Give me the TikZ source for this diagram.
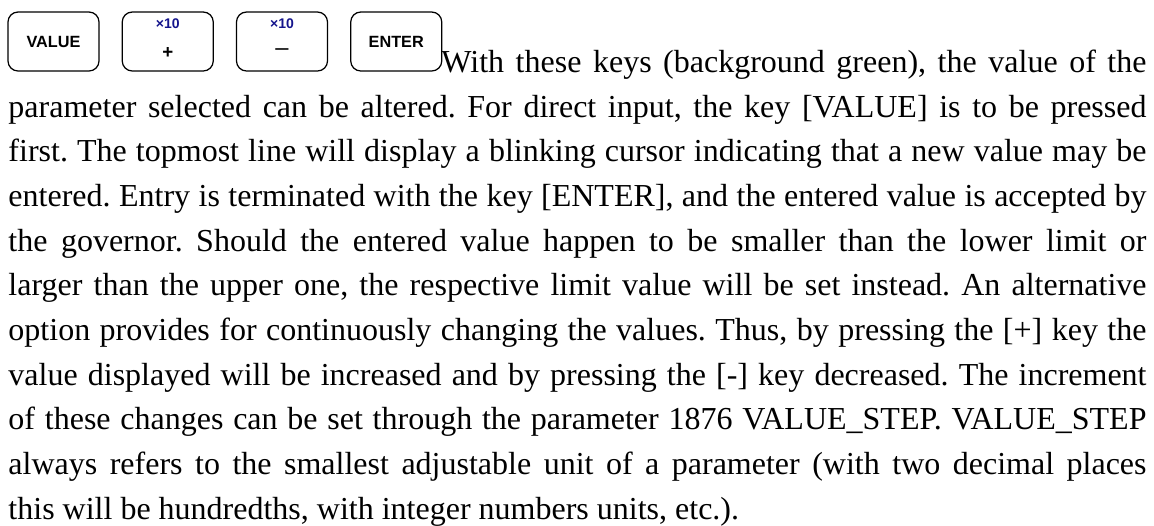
\documentclass[tikz,border=0pt]{standalone}
\usepackage{fontspec}
\setmainfont{Liberation Serif}
\newfontfamily\keyfont{Liberation Sans}
\usepackage{tikz}
\usetikzlibrary{positioning}
\definecolor{keyblue}{RGB}{20,20,140}
\tikzset{key/.style={draw,rounded corners=4pt,line width=0.5pt,minimum width=36.4pt,minimum height=23.6pt,inner sep=0pt,font=\keyfont\fontsize{6.5}{8}\selectfont\bfseries}}
\tikzset{keytag/.style={inner sep=0pt,text=keyblue,font=\keyfont\fontsize{5.6}{6}\selectfont\bfseries}}
\tikzset{keysign/.style={inner sep=0pt,font=\keyfont\fontsize{7.5}{8}\selectfont}}
\tikzset{para/.style={anchor=north west,inner sep=0pt,text width=455.2pt,align=justify,font=\fontsize{12.8}{17.87}\selectfont}}
\begin{document}
\begin{tikzpicture}
    \useasboundingbox (0,0) rectangle (461.6pt,-210pt);
        \node[key] (value) at (21.4pt,-16.6pt) {VALUE};
        \node[key,right=8.8pt of value] (plus) {};
            \node[keytag] (plustag) at ([yshift=7pt]plus.center) {×10};
            \node[keysign] (plussign) at ([yshift=-4.6pt]plus.center) {\textbf{+}};
        \node[key,right=8.8pt of plus] (minus) {};
            \node[keytag] (minustag) at ([yshift=7pt]minus.center) {×10};
            \node[keysign,font=\keyfont\fontsize{9.5}{10}\selectfont] (minussign) at ([yshift=-4.2pt]minus.center) {–};
        \node[key,right=8.8pt of minus] (enter) {ENTER};
        \node[para] (text) at (3.2pt,-16.29pt) {\frenchspacing\hyphenpenalty=10000\hangindent=173.2pt\hangafter=-1\strut
            With these keys (background green), the value of the\linebreak
            parameter selected can be altered. For direct input, the key [VALUE] is to be pressed\linebreak
            first. The topmost line will display a blinking cursor indicating that a new value may be\linebreak
            entered. Entry is terminated with the key [ENTER], and the entered value is accepted by\linebreak
            the governor. Should the entered value happen to be smaller than the lower limit or\linebreak
            larger than the upper one, the respective limit value will be set instead. An alternative\linebreak
            option provides for continuously changing the values. Thus, by pressing the [+] key the\linebreak
            value displayed will be increased and by pressing the [-] key decreased. The increment\linebreak
            of these changes can be set through the parameter 1876 VALUE\_STEP. VALUE\_STEP\linebreak
            always refers to the smallest adjustable unit of a parameter (with two decimal places\linebreak
            this will be hundredths, with integer numbers units, etc.).\strut\par};
\end{tikzpicture}
\end{document}
